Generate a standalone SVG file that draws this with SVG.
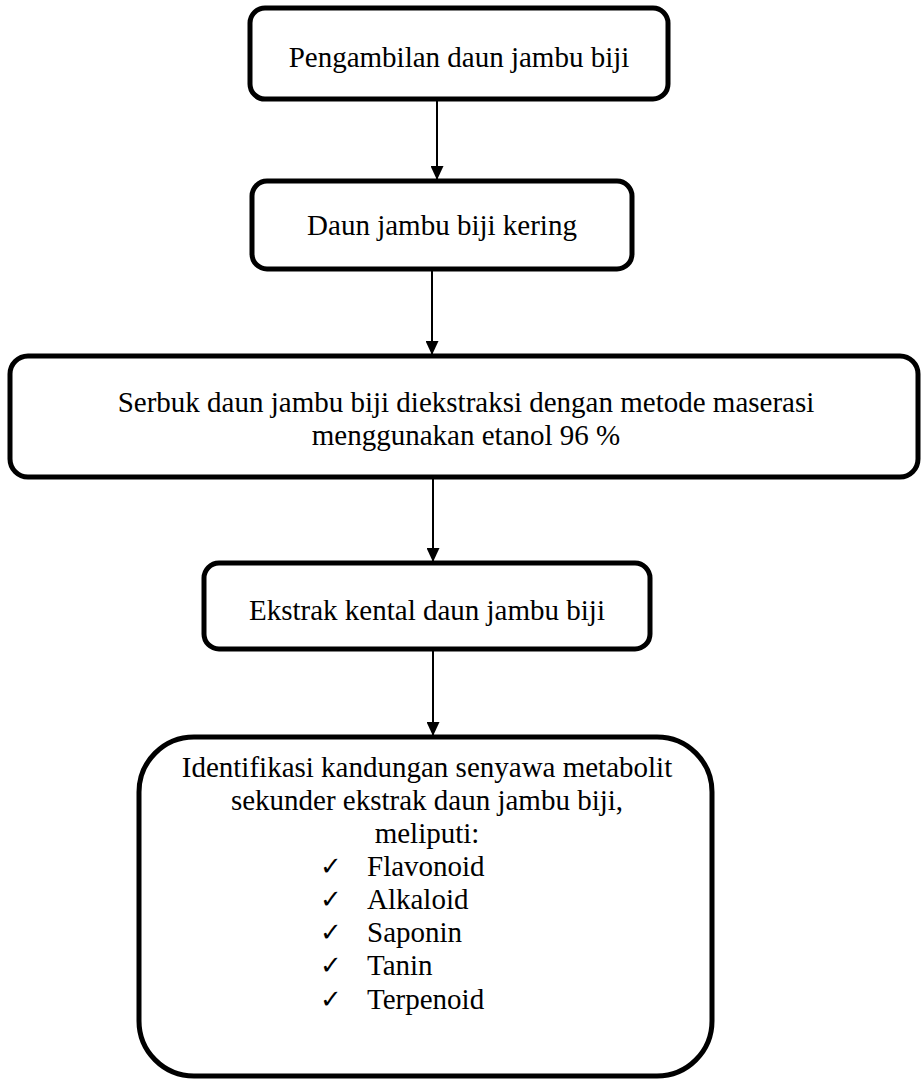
<svg xmlns="http://www.w3.org/2000/svg" width="924" height="1080" viewBox="0 0 924 1080">
<style>
.box{fill:#fff;stroke:#000;stroke-width:5}
.t{font-family:"Liberation Serif","Times New Roman",serif;font-size:29px;fill:#000;text-anchor:middle}
.l{font-family:"Liberation Serif","Times New Roman",serif;font-size:29px;fill:#000}
.ck{font-family:"DejaVu Sans",sans-serif;font-size:26px;fill:#000}
.c{stroke:#000;stroke-width:2;fill:none}
</style>
<defs>
<marker id="ah" markerWidth="14" markerHeight="13" refX="14" refY="6.5" orient="auto" markerUnits="userSpaceOnUse">
<path d="M0,0 L14,6.5 L0,13 Z" fill="#000"/>
</marker>
</defs>
<rect width="924" height="1080" fill="#fff"/>
<g id="connectors">
<line class="c" x1="437" y1="100" x2="437" y2="180" marker-end="url(#ah)"/>
<line class="c" x1="432" y1="270" x2="432" y2="355" marker-end="url(#ah)"/>
<line class="c" x1="433" y1="478" x2="433" y2="562" marker-end="url(#ah)"/>
<line class="c" x1="433" y1="650" x2="433" y2="736" marker-end="url(#ah)"/>
</g>
<g id="n1">
<rect class="box" x="250" y="8" width="418" height="91" rx="15"/>
<text class="t" x="459" y="67">Pengambilan daun jambu biji</text>
</g>
<g id="n2">
<rect class="box" x="252" y="181" width="380" height="88" rx="15"/>
<text class="t" x="442" y="235">Daun jambu biji kering</text>
</g>
<g id="n3">
<rect class="box" x="10" y="356" width="908" height="121" rx="18"/>
<text class="t" x="466" y="412">Serbuk daun jambu biji diekstraksi dengan metode maserasi</text>
<text class="t" x="466" y="445">menggunakan etanol 96 %</text>
</g>
<g id="n4">
<rect class="box" x="204" y="563" width="446" height="86" rx="15"/>
<text class="t" x="427" y="620">Ekstrak kental daun jambu biji</text>
</g>
<g id="n5">
<rect class="box" x="139" y="737" width="573" height="339" rx="55"/>
<text class="t" x="427" y="777">Identifikasi kandungan senyawa metabolit</text>
<text class="t" x="427" y="810">sekunder ekstrak daun jambu biji,</text>
<text class="t" x="427" y="843">meliputi:</text>
<text class="ck" x="320" y="875">✓</text><text class="l" x="367" y="876">Flavonoid</text>
<text class="ck" x="320" y="908">✓</text><text class="l" x="367" y="909">Alkaloid</text>
<text class="ck" x="320" y="941">✓</text><text class="l" x="367" y="942">Saponin</text>
<text class="ck" x="320" y="974">✓</text><text class="l" x="367" y="975">Tanin</text>
<text class="ck" x="320" y="1008">✓</text><text class="l" x="367" y="1009">Terpenoid</text>
</g>
</svg>
